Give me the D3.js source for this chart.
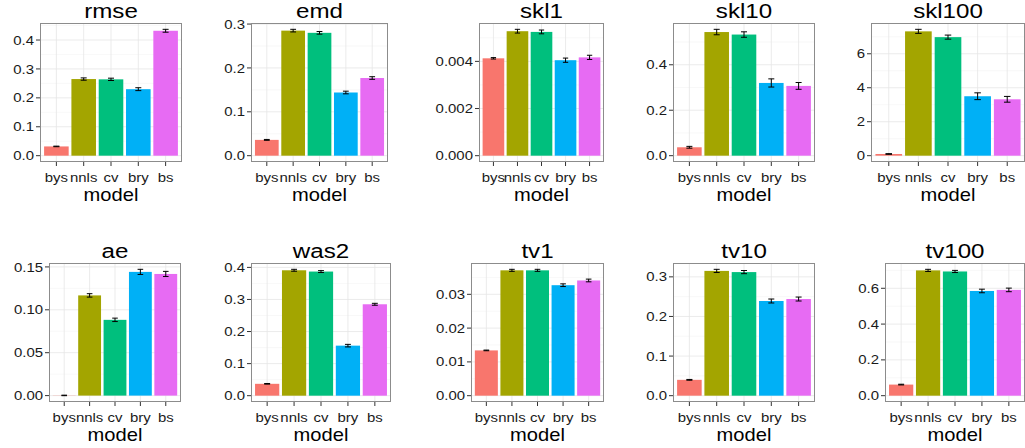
<!DOCTYPE html>
<html>
<head>
<meta charset="utf-8">
<script src="https://cdn.jsdelivr.net/npm/d3@7"></script>
<style>
  html, body { margin: 0; padding: 0; background: #fff; }
  svg { display: block; font-family: "Liberation Sans", Arial, Helvetica, sans-serif; }
</style>
</head>
<body>
<div id="chart"></div>
<script>
// models on the x axis, same order in every panel
const models = ['bys', 'nnls', 'cv', 'bry', 'bs'];
const modelColors = ['#F8766D', '#A3A500', '#00BF7D', '#00B0F6', '#E76BF3'];

// one panel per metric
const metrics = ['rmse', 'emd', 'skl1', 'skl10', 'skl100', 'ae', 'was2', 'tv1', 'tv10', 'tv100'];

// mean value per model, one row per metric
const means = [
  [0.032, 0.265, 0.264, 0.230, 0.432],
  [0.036, 0.285, 0.280, 0.144, 0.177],
  [0.00413, 0.00528, 0.00525, 0.00405, 0.00417],
  [0.037, 0.544, 0.533, 0.320, 0.307],
  [0.10, 7.32, 6.98, 3.50, 3.32],
  [0.0002, 0.1168, 0.0883, 0.1442, 0.1418],
  [0.037, 0.391, 0.387, 0.156, 0.285],
  [0.0134, 0.0371, 0.0371, 0.0327, 0.0341],
  [0.040, 0.315, 0.312, 0.239, 0.244],
  [0.062, 0.700, 0.694, 0.585, 0.591],
];

// half-width of the error bar (standard error)
const errors = [
  [0.001, 0.004, 0.004, 0.005, 0.005],
  [0.001, 0.003, 0.003, 0.003, 0.003],
  [0.00003, 0.00008, 0.00008, 0.00009, 0.00009],
  [0.004, 0.012, 0.012, 0.018, 0.015],
  [0.02, 0.12, 0.12, 0.20, 0.17],
  [0.0003, 0.002, 0.002, 0.003, 0.003],
  [0.001, 0.003, 0.003, 0.004, 0.003],
  [0.0001, 0.0003, 0.0003, 0.0004, 0.0004],
  [0.001, 0.004, 0.004, 0.005, 0.005],
  [0.002, 0.006, 0.006, 0.010, 0.010],
];

// y tick labels per panel
const tickLabels = [
  ['0.0', '0.1', '0.2', '0.3', '0.4'],
  ['0.0', '0.1', '0.2', '0.3'],
  ['0.000', '0.002', '0.004'],
  ['0.0', '0.2', '0.4'],
  ['0', '2', '4', '6'],
  ['0.00', '0.05', '0.10', '0.15'],
  ['0.0', '0.1', '0.2', '0.3', '0.4'],
  ['0.00', '0.01', '0.02', '0.03'],
  ['0.0', '0.1', '0.2', '0.3'],
  ['0.0', '0.2', '0.4', '0.6'],
];

const xTitle = 'model';

// panel plot regions [left, right, top, bottom] in page pixels
const panelBoxes = [
  [40, 182, 23, 162],
  [251, 388, 23, 162],
  [479, 604, 23, 162],
  [673, 815, 23, 162],
  [871, 1025, 23, 162],
  [49, 181, 263, 402],
  [251, 391, 263, 402],
  [471, 604, 263, 402],
  [673, 815, 263, 402],
  [885, 1025, 263, 402],
];

const W = 1025, H = 448;
const SX = 1.15; // glyphs in the reference are a bit wide

const svg = d3.select('#chart').append('svg')
  .attr('width', W)
  .attr('height', H);

function label(g, x, y, txt, size, anchor, color) {
  return g.append('text')
    .attr('transform', `translate(${x},${y}) scale(${SX},1)`)
    .attr('text-anchor', anchor)
    .style('font-size', size + 'px')
    .attr('fill', color)
    .text(txt);
}

metrics.forEach((metric, i) => {
  const [x0, x1, y0, y1] = panelBoxes[i];
  const vals = means[i], errs = errors[i];
  const ticks = tickLabels[i].map(Number);

  const lo = Math.min(0, d3.min(vals, (v, j) => v - errs[j]));
  const hi = d3.max(vals, (v, j) => v + errs[j]);
  const pad = (hi - lo) * 0.05;

  const x = d3.scaleBand()                 // ggplot discrete: 0.6 units of expansion each side
    .domain(models)
    .range([x0, x1])
    .paddingInner(0.1)
    .paddingOuter(0.15);

  const y = d3.scaleLinear()
    .domain([lo - pad, hi + pad])
    .range([y1, y0]);

  const g = svg.append('g').attr('class', 'panel-' + metric);

  // minor grid (half way between major ticks)
  const step = ticks[1] - ticks[0];
  const minor = d3.range(ticks[0] - step / 2, hi + pad + step, step)
    .filter(v => v > lo - pad && v < hi + pad);
  g.selectAll('.minor').data(minor).enter().append('line')
    .attr('x1', x0).attr('x2', x1)
    .attr('y1', d => y(d)).attr('y2', d => y(d))
    .attr('stroke', '#F3F3F3').attr('stroke-width', 0.6);

  // major grid
  g.selectAll('.major-y').data(ticks).enter().append('line')
    .attr('x1', x0).attr('x2', x1)
    .attr('y1', d => y(d)).attr('y2', d => y(d))
    .attr('stroke', '#E6E6E6').attr('stroke-width', 0.8);
  g.selectAll('.major-x').data(models).enter().append('line')
    .attr('x1', d => x(d) + x.bandwidth() / 2).attr('x2', d => x(d) + x.bandwidth() / 2)
    .attr('y1', y0).attr('y2', y1)
    .attr('stroke', '#E6E6E6').attr('stroke-width', 0.8);

  // bars
  g.selectAll('.bar').data(models).enter().append('rect')
    .attr('x', d => x(d))
    .attr('width', x.bandwidth())
    .attr('y', (d, j) => Math.min(y(vals[j]), y(0)))
    .attr('height', (d, j) => Math.abs(y(0) - y(vals[j])))
    .attr('fill', (d, j) => modelColors[j]);

  // error bars
  const capW = x.step() * 0.11;
  const eb = g.selectAll('.err').data(models).enter().append('g')
    .attr('stroke', '#000').attr('stroke-width', 1).attr('fill', 'none');
  eb.append('line')
    .attr('x1', d => x(d) + x.bandwidth() / 2).attr('x2', d => x(d) + x.bandwidth() / 2)
    .attr('y1', (d, j) => y(vals[j] - errs[j])).attr('y2', (d, j) => y(vals[j] + errs[j]));
  [-1, 1].forEach(s => {
    eb.append('line')
      .attr('x1', d => x(d) + x.bandwidth() / 2 - capW).attr('x2', d => x(d) + x.bandwidth() / 2 + capW)
      .attr('y1', (d, j) => y(vals[j] + s * errs[j])).attr('y2', (d, j) => y(vals[j] + s * errs[j]));
  });

  // panel border
  g.append('rect')
    .attr('x', x0 + 0.5).attr('y', y0 + 0.5)
    .attr('width', x1 - x0 - 1).attr('height', y1 - y0 - 1)
    .attr('fill', 'none').attr('stroke', '#8C8C8C').attr('stroke-width', 1);

  // y axis ticks and labels
  ticks.forEach((t, k) => {
    g.append('line')
      .attr('x1', x0 - 4).attr('x2', x0)
      .attr('y1', y(t)).attr('y2', y(t))
      .attr('stroke', '#333').attr('stroke-width', 1);
    label(g, x0 - 6, y(t) + 4.6, tickLabels[i][k], 13, 'end', '#1a1a1a');
  });

  // x axis ticks and labels
  models.forEach(m => {
    const cx = x(m) + x.bandwidth() / 2;
    g.append('line')
      .attr('x1', cx).attr('x2', cx)
      .attr('y1', y1).attr('y2', y1 + 4)
      .attr('stroke', '#333').attr('stroke-width', 1);
    label(g, cx, y1 + 20, m, 13, 'middle', '#1a1a1a');
  });

  // axis title and panel title
  label(g, (x0 + x1) / 2, y1 + 39, xTitle, 17.5, 'middle', '#000');
  label(g, (x0 + x1) / 2, y0 - 5, metric, 21, 'middle', '#000');
});
</script>
</body>
</html>
